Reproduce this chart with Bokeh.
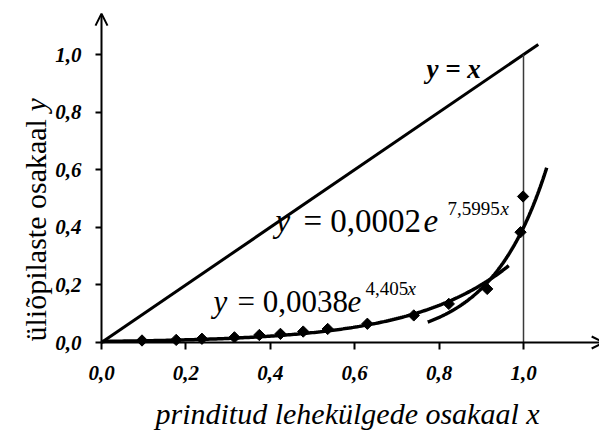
import numpy as np
from bokeh.plotting import figure
from bokeh.models import Range1d, FixedTicker, CustomJSTickFormatter, Label, Arrow, OpenHead
from bokeh.embed import file_html
from bokeh.resources import INLINE

# ---- data ----
x_points = [0.096, 0.177, 0.238, 0.315, 0.374, 0.424, 0.478, 0.536, 0.630, 0.740, 0.823, 0.914, 0.993, 0.999]
y_points = [0.007, 0.009, 0.013, 0.018, 0.026, 0.030, 0.038, 0.047, 0.065, 0.094, 0.134, 0.186, 0.383, 0.507]

# exponential trendlines as printed on the chart: y = a * e^(b x)
fit1_a, fit1_b = 0.0038, 4.405
fit1_span = [0.0, 0.965]
fit2_a, fit2_b = 0.0002, 7.5995
fit2_span = [0.773, 1.055]

identity_span = [0.0, 1.035]          # y = x
ref_x = [1.0, 1.0]                    # vertical line at x = 1
ref_y = [0.0, 1.0]

x_ticks = [0.0, 0.2, 0.4, 0.6, 0.8, 1.0]
x_tick_labels = ["0,0", "0,2", "0,4", "0,6", "0,8", "1,0"]
y_ticks = [0.0, 0.2, 0.4, 0.6, 0.8, 1.0]
y_tick_labels = ["0,0", "0,2", "0,4", "0,6", "0,8", "1,0"]

x_axis_end = 1.19
y_axis_end = 1.142

FONT = "Liberation Serif"

W, H = 599, 439
X0, Y0 = 101, 342          # pixel position of the origin
SX, SY = 422, 288          # pixels per unit

p = figure(width=W, height=H,
           x_range=Range1d(-X0 / SX, (W - X0) / SX),
           y_range=Range1d(-(H - Y0) / SY, Y0 / SY),
           output_backend="svg", toolbar_location=None,
           min_border_left=0, min_border_right=0,
           min_border_top=0, min_border_bottom=0)
p.grid.visible = False
p.outline_line_color = None
p.background_fill_color = "white"
p.border_fill_color = "white"

fmt_js = """
const i = tick_values.findIndex(t => Math.abs(t - tick) < 1e-9);
return i >= 0 ? tick_texts[i] : '';
"""
for ax, ticks, labels, standoff in ((p.xaxis[0], x_ticks, x_tick_labels, 16),
                                    (p.yaxis[0], y_ticks, y_tick_labels, 14)):
    ax.fixed_location = 0
    ax.ticker = FixedTicker(ticks=ticks)
    ax.formatter = CustomJSTickFormatter(args=dict(tick_values=ticks, tick_texts=labels), code=fmt_js)
    ax.axis_line_color = None
    ax.major_tick_line_color = "black"
    ax.major_tick_line_width = 2
    ax.major_tick_out = 7 if ax is p.xaxis[0] else 6
    ax.major_tick_in = 0
    ax.minor_tick_line_color = None
    ax.major_label_text_font = FONT
    ax.major_label_text_font_style = "bold italic"
    ax.major_label_text_font_size = "21px"
    ax.major_label_text_color = "black"
    ax.major_label_standoff = standoff

# axes with arrow heads
p.add_layout(Arrow(end=OpenHead(size=12, line_width=2, line_color="black"),
                   x_start=0, y_start=0, x_end=0, y_end=y_axis_end,
                   line_width=2, line_color="black"))
p.add_layout(Arrow(end=OpenHead(size=12, line_width=2, line_color="black"),
                   x_start=0, y_start=0, x_end=x_axis_end, y_end=0,
                   line_width=2, line_color="black"))

# y = x and the vertical reference line
p.line(identity_span, identity_span, line_width=3, line_color="black")
p.line(ref_x, ref_y, line_width=1.5, line_color="#3a3a3a")

# trendlines
xs1 = np.linspace(fit1_span[0], fit1_span[1], 200)
p.line(xs1, fit1_a * np.exp(fit1_b * xs1), line_width=3.5, line_color="black")
xs2 = np.linspace(fit2_span[0], fit2_span[1], 200)
p.line(xs2, fit2_a * np.exp(fit2_b * xs2), line_width=3.5, line_color="black")

# data points
p.scatter(x_points, y_points, marker="square", size=8, angle=np.pi / 4,
          fill_color="black", line_color="black", line_width=1)

BASE_SHIFT = 0.35   # compensation for the renderer's baseline placement (in em)


def add_text(x, y, text, size, style="normal", x_offset=0, y_offset=0, rotated=False):
    comp = BASE_SHIFT * size
    if rotated:
        x_offset -= comp
        angle = np.pi / 2
    else:
        y_offset += comp
        angle = 0
    p.add_layout(Label(x=x, y=y, text=text, text_font=FONT,
                       text_font_size=f"{size}px", text_font_style=style,
                       text_color="black", x_offset=x_offset, y_offset=y_offset,
                       angle=angle, text_align="left", text_baseline="alphabetic"))


# upper equation
ux, uy = 0.4123, 0.3819
add_text(ux, uy, "y", 33, "italic")
add_text(ux, uy, "= 0,0002", 33, x_offset=28)
add_text(ux, uy, "e", 33, "italic", x_offset=148)
add_text(ux, uy, "7,5995", 19, x_offset=172, y_offset=17)
add_text(ux, uy, "x", 19, "italic", x_offset=225, y_offset=17)

# lower equation
lx, ly = 0.2654, 0.1042
add_text(lx, ly, "y", 31, "italic")
add_text(lx, ly, "= 0,0038", 31, x_offset=24)
add_text(lx, ly, "e", 31, "italic", x_offset=134)
add_text(lx, ly, "4,405", 19, x_offset=152, y_offset=17)
add_text(lx, ly, "x", 19, "italic", x_offset=194, y_offset=17)

# y = x label
add_text(0.770, 0.9167, "y = x", 27, "bold italic")

# axis titles
add_text(0.128, -0.2847, "prinditud lehekülgede osakaal x", 30, "italic")
add_text(-0.1327, 0.0035, "üliõpilaste osakaal", 30, rotated=True)
add_text(-0.1327, 0.802, "y", 30, "italic", rotated=True)

open("out.html", "w").write(file_html(p, INLINE))
